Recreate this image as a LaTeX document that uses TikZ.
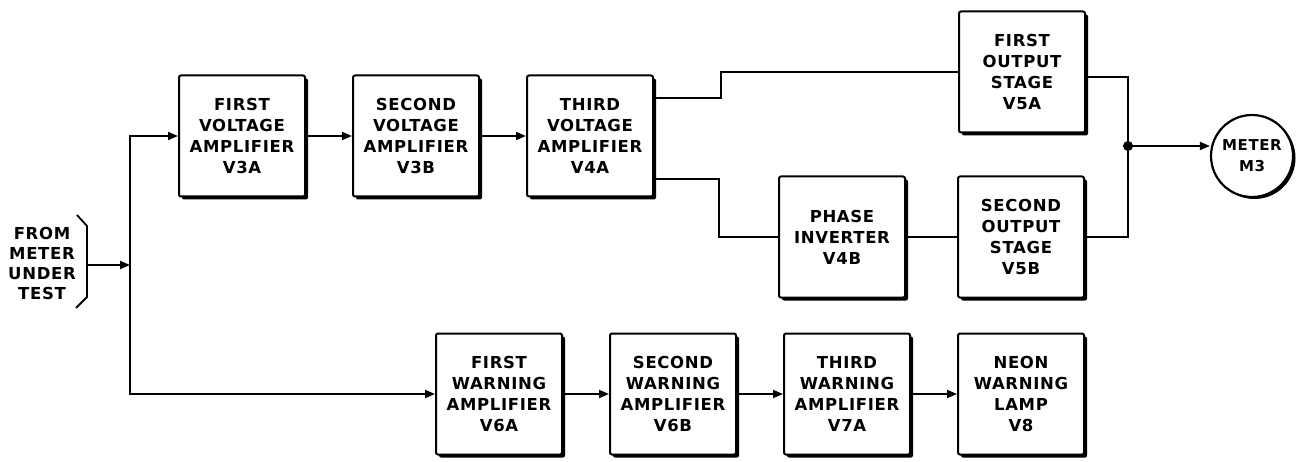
\documentclass[tikz,border=0pt]{standalone}
\usepackage{fontspec}
\newfontfamily\lblfont{DejaVu Sans}[LetterSpace=4]
\usepackage{tikz}
\usetikzlibrary{arrows.meta,positioning,shadows}

\begin{document}
\begin{tikzpicture}[
  x=1pt, y=-1pt,
  font=\lblfont\bfseries\fontsize{16.5}{21}\selectfont,
  box/.style={draw, line width=2pt, rounded corners=2pt, fill=white, align=center,
    inner sep=2pt, minimum width=126pt, minimum height=121pt,
    drop shadow={shadow xshift=3pt, shadow yshift=-3pt, fill=black, opacity=1}},
  meter/.style={draw, circle, line width=2.2pt, fill=white, align=center,
    inner sep=0pt, minimum size=82pt, font=\lblfont\bfseries\fontsize{15}{21}\selectfont,
    drop shadow={shadow xshift=2.5pt, shadow yshift=-2pt, fill=black, opacity=1}},
  arr/.style={-{Triangle[length=10pt,width=8pt]}, line width=1.8pt},
  wire/.style={line width=1.8pt}
]
  \useasboundingbox (0,0) rectangle (1297,462);

  % voltage chain
  \node[box] (v3a) at (242,136) {FIRST\\VOLTAGE\\AMPLIFIER\\V3A};
  \node[box, right=46pt of v3a] (v3b) {SECOND\\VOLTAGE\\AMPLIFIER\\V3B};
  \node[box, right=46pt of v3b] (v4a) {THIRD\\VOLTAGE\\AMPLIFIER\\V4A};
  \node[box] (v5a) at (1022,72) {FIRST\\OUTPUT\\STAGE\\V5A};
  \node[box] (v5b) at (1021,237) {SECOND\\OUTPUT\\STAGE\\V5B};
  \node[box, left=51pt of v5b] (v4b) {PHASE\\INVERTER\\V4B};
  \node[meter] (m3) at (1252,156) {METER\\M3};

  % warning chain
  \node[box] (v6a) at (499,394) {FIRST\\WARNING\\AMPLIFIER\\V6A};
  \node[box, right=46pt of v6a] (v6b) {SECOND\\WARNING\\AMPLIFIER\\V6B};
  \node[box, right=46pt of v6b] (v7a) {THIRD\\WARNING\\AMPLIFIER\\V7A};
  \node[box, right=46pt of v7a] (v8) {NEON\\WARNING\\LAMP\\V8};

  % input
  \node[align=center] (src) at (42,263) {FROM\\[-1pt]METER\\[-1pt]UNDER\\[-1pt]TEST};
  \draw[wire] (77,215) -- (87,226) -- (87,297) -- (76,308);
  \coordinate (brtip) at (87,265);
  \coordinate (bus) at (130,265);
  \coordinate (jct) at (1128,146);

  \draw[arr] (brtip) -- (bus);
  \draw[arr] (bus) |- (v3a);
  \draw[arr] (bus) |- (v6a);
  \draw[arr] (v3a) -- (v3b);
  \draw[arr] (v3b) -- (v4a);
  \draw[wire] ([yshift=38pt]v4a.east) -- ++(67,0) |- (v5a.west);
  \draw[wire] ([yshift=-43pt]v4a.east) -- ++(65,0) |- (v4b.west);
  \draw[wire] (v4b) -- (v5b);
  \draw[wire] ([yshift=-5pt]v5a.east) -| (jct) |- (v5b.east);
  \fill (jct) circle (5pt);
  \draw[arr] (jct) -- (jct -| m3.west);

  \draw[arr] (v6a) -- (v6b);
  \draw[arr] (v6b) -- (v7a);
  \draw[arr] (v7a) -- (v8);
\end{tikzpicture}
\end{document}
